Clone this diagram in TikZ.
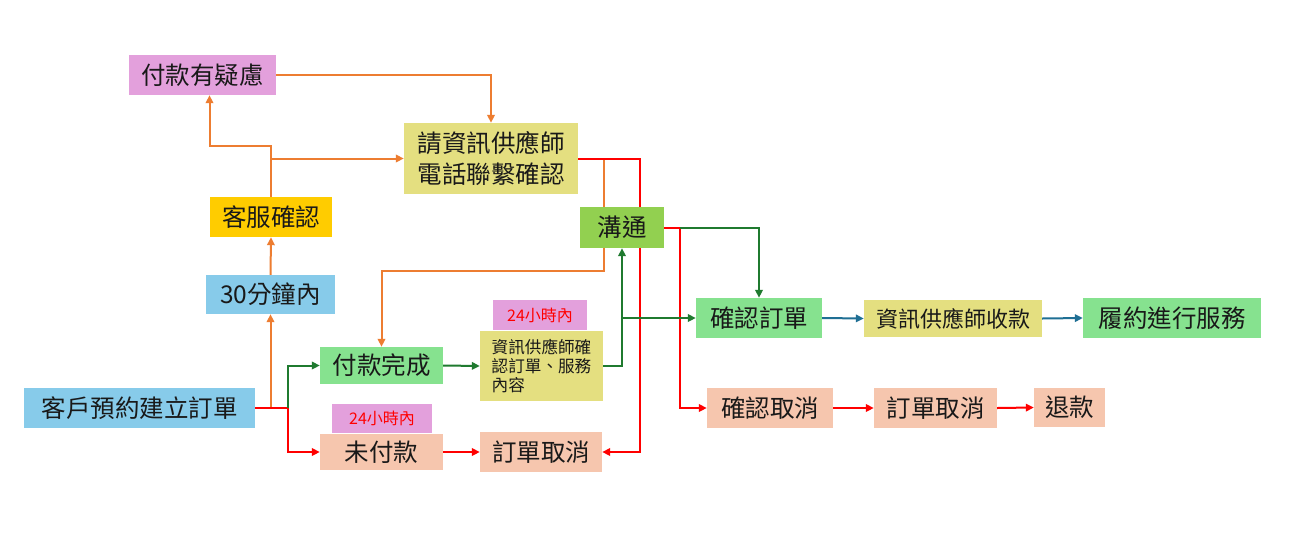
\documentclass[tikz,border=0pt]{standalone}
\usepackage{fontspec}
\setmainfont{Noto Sans CJK TC}
\usetikzlibrary{arrows.meta,backgrounds}
\definecolor{cpink}{HTML}{E3A0DC}
\definecolor{cyel}{HTML}{E4DF80}
\definecolor{cgold}{HTML}{FFCC00}
\definecolor{cblue}{HTML}{87CBEA}
\definecolor{cgrn}{HTML}{92D050}
\definecolor{clgrn}{HTML}{86E28F}
\definecolor{cpeach}{HTML}{F6C6AE}
\definecolor{lor}{HTML}{ED7D31}
\definecolor{lred}{HTML}{FF0000}
\definecolor{ldg}{HTML}{1F7A2F}
\definecolor{lbl}{HTML}{1F6F94}
\tikzset{
  box/.style={inner sep=0pt, text=black!90, font=\fontsize{24.5}{28}\selectfont},
  ln/.style={line width=2pt, -{Triangle[length=8pt,width=7.5pt]}},
  plain/.style={line width=2pt},
}
\begin{document}
\begin{tikzpicture}[x=1pt,y=-1pt]
\useasboundingbox (0,0) rectangle (1305,536);
% nodes
\node[box,fill=cpink,minimum width=147,minimum height=40] (doubt) at (202.5,75) {付款有疑慮};
\node[box,fill=cyel,minimum width=174,minimum height=71,align=center,font=\fontsize{24.5}{31}\selectfont] (ask) at (491,158.5) {請資訊供應師\\電話聯繫確認};
\node[box,fill=cgold,minimum width=122,minimum height=40] (cs) at (271,217) {客服確認};
\node[box,fill=cblue,minimum width=129,minimum height=39] (m30) at (270.5,294.5) {30分鐘內};
\node[box,fill=cblue,minimum width=231,minimum height=40] (order) at (139.5,408) {客戶預約建立訂單};
\node[box,fill=cgrn,minimum width=84,minimum height=41] (comm) at (622,227.5) {溝通};
\node[box,fill=clgrn,minimum width=123,minimum height=37] (paid) at (381.5,365.5) {付款完成};
\node[box,fill=cpink,minimum width=94,minimum height=30,text=lred,font=\fontsize{16}{18}\selectfont] (t1) at (540,315) {24小時內};
\node[box,fill=cyel,minimum width=123,minimum height=70,align=left,font=\fontsize{16.6}{19}\selectfont] (vconf) at (541.5,366) {資訊供應師確\\認訂單、服務\\內容\hspace*{4em}};
\node[box,fill=cpink,minimum width=100,minimum height=29,text=lred,font=\fontsize{16}{18}\selectfont] (t2) at (382,418.5) {24小時內};
\node[box,fill=cpeach,minimum width=123,minimum height=36] (unpaid) at (381.5,452) {未付款};
\node[box,fill=cpeach,minimum width=122,minimum height=40] (cancel1) at (541,452) {訂單取消};
\node[box,fill=clgrn,minimum width=126,minimum height=40] (confirm) at (759,318) {確認訂單};
\node[box,fill=cyel,minimum width=178,minimum height=37,font=\fontsize{22}{26}\selectfont] (collect) at (953,318.5) {資訊供應師收款};
\node[box,fill=clgrn,minimum width=178,minimum height=40] (serve) at (1172,318) {履約進行服務};
\node[box,fill=cpeach,minimum width=126,minimum height=40] (ccancel) at (770,408) {確認取消};
\node[box,fill=cpeach,minimum width=123,minimum height=40] (cancel2) at (935.5,408) {訂單取消};
\node[box,fill=cpeach,minimum width=71,minimum height=39] (refund) at (1069.5,407.5) {退款};
% junction coordinates
\coordinate (jcs) at (cs.north |- ask.west);
\coordinate (jord) at (288,408);
\coordinate (jcomm) at (680,227.5);
\coordinate (jask) at (640,158.5);
\coordinate (jor) at (604,158.5);
\begin{scope}[on background layer]
\fill[white] (0,0) rectangle (1305,536);
% orange
\draw[ln,lor] (doubt.east) -| (ask.north);
\draw[ln,lor] (cs.north) -- ++(0,-51) -| ([xshift=7]doubt.south);
\draw[ln,lor] (jcs) -- (ask.west);
\draw[ln,lor] (m30.north) -- (cs.south);
\draw[ln,lor] (m30.south |- order.east) -- (m30.south);
\draw[ln,lor] (jor) -- ++(0,112) -| (paid.north);
% red
\draw[plain,lred] (order.east) -- (jord);
\draw[ln,lred] (jord) |- (unpaid.west);
\draw[ln,lred] (unpaid.east) -- (cancel1.west);
\draw[ln,lred] (ask.east) -- (jask) |- (cancel1.east);
\draw[plain,lred] (comm.east) -- (jcomm);
\draw[ln,lred] (jcomm) |- (ccancel.west);
\draw[ln,lred] (ccancel.east) -- (cancel2.west);
\draw[ln,lred] (cancel2.east) -- (refund.west);
% dark green
\draw[ln,ldg] (jord) |- (paid.west);
\draw[ln,ldg] (paid.east) -- (vconf.west);
\draw[ln,ldg] (vconf.east) -| (comm.south);
\draw[ln,ldg] (comm.south |- confirm.west) -- (confirm.west);
\draw[ln,ldg] (jcomm) -| (confirm.north);
% blue
\draw[ln,lbl] (confirm.east) -- (collect.west);
\draw[ln,lbl] (collect.east) -- (serve.west);
\end{scope}
\end{tikzpicture}
\end{document}
